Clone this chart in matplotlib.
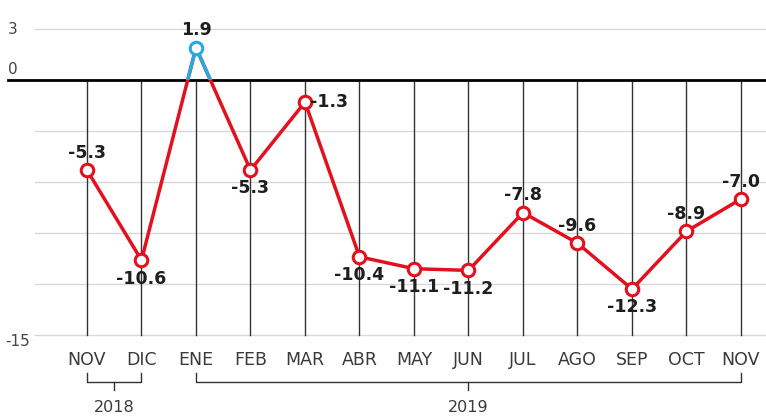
import matplotlib.pyplot as plt
from matplotlib.patches import Rectangle

months = ["NOV", "DIC", "ENE", "FEB", "MAR", "ABR", "MAY", "JUN",
          "JUL", "AGO", "SEP", "OCT", "NOV"]
values = [-5.3, -10.6, 1.9, -5.3, -1.3, -10.4, -11.1, -11.2,
          -7.8, -9.6, -12.3, -8.9, -7.0]
label_pos = ["above", "below", "above", "below", "right", "below", "below",
             "below", "above", "above", "below", "above", "above"]
years = [("2018", 0, 1), ("2019", 2, 12)]

RED = "#e3101e"
BLUE = "#2aa8df"
TXT = "#1e1e1e"
GRAY = "#444444"

# pixel mapping: x = 87 + 54.5*i, y = 80 - 17*v
PX, PY = 54.5, 17.0
def dx(px):
    return (px - 87) / PX
def dy(py):
    return (80 - py) / PY

fig = plt.figure(figsize=(7.66, 4.19), dpi=100)
ax = fig.add_axes([0, 0, 1, 1])
ax.set_xlim(dx(0), dx(766))
ax.set_ylim(dy(419), dy(0))
ax.axis("off")

x = list(range(len(months)))

# gridlines
for g in [3, -3, -6, -9, -12, -15]:
    ax.plot([dx(35), dx(766)], [g, g], color="#d8d8d8", lw=1, zorder=1)
ax.plot([dx(8), dx(766)], [0, 0], color="black", lw=2, zorder=3)

# vertical lines per month
for i in x:
    ax.plot([i, i], [0, -15], color="#333333", lw=1, zorder=2)

# y labels
ax.text(dx(8), dy(29), "3", ha="left", va="center", fontsize=11, color=GRAY)
ax.text(dx(8), dy(69), "0", ha="left", va="center", fontsize=11, color=GRAY)
ax.text(dx(5), dy(341), "-15", ha="left", va="center", fontsize=11, color=GRAY)

# line: red below 0, blue above 0
red_line, = ax.plot(x, values, color=RED, lw=2.5, zorder=4)
blue_line, = ax.plot(x, values, color=BLUE, lw=2.5, zorder=5)
clip = Rectangle((dx(0), 0), dx(766) - dx(0), 10, transform=ax.transData)
blue_line.set_clip_path(clip)

for i, v in zip(x, values):
    c = BLUE if v > 0 else RED
    ax.plot(i, v, "o", ms=9, mfc="white", mec=c, mew=2.2, zorder=6)

for i, v, p in zip(x, values, label_pos):
    s = f"{v:.1f}"
    if p == "above":
        ax.text(i, v + 0.5, s, ha="center", va="bottom", fontsize=12.5,
                fontweight="bold", color=TXT, zorder=7)
    elif p == "below":
        ax.text(i, v - 0.55, s, ha="center", va="top", fontsize=12.5,
                fontweight="bold", color=TXT, zorder=7)
    else:
        ax.text(i + 0.1, v, s, ha="left", va="center", fontsize=12.5,
                fontweight="bold", color=TXT, zorder=7)

# month labels
for i, m in zip(x, months):
    ax.text(i, dy(360), m, ha="center", va="center", fontsize=12.5,
            color="#3a3a3a")

# year brackets
yb = dy(382)
for name, a, b in years:
    ax.plot([a, a, b, b], [dy(373), yb, yb, dy(373)], color="#333333",
            lw=1, clip_on=False)
    mid = (a + b) / 2 if name == "2018" else 7
    ax.plot([mid, mid], [yb, dy(390)], color="#333333", lw=1)
    ax.text(mid, dy(407), name, ha="center", va="center", fontsize=11.5,
            color="#3a3a3a")

fig.savefig("out.png", dpi=100)
